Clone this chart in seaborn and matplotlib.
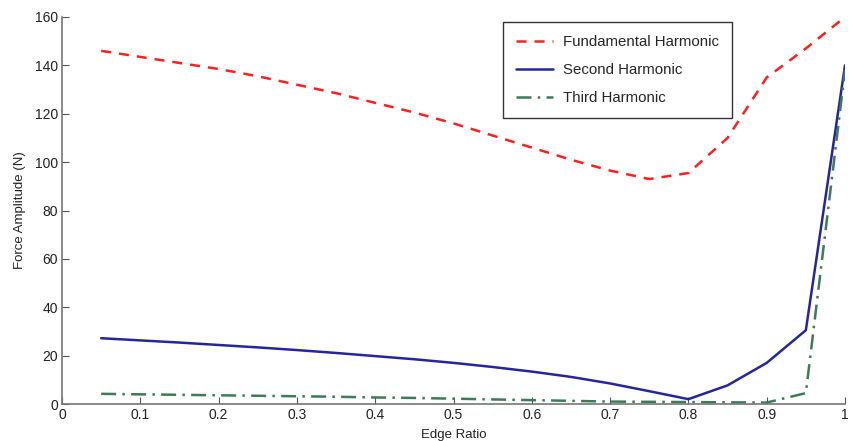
import matplotlib
matplotlib.use("Agg")
import matplotlib.pyplot as plt
import seaborn as sns
import pandas as pd

edge_ratio = [0.05, 0.10, 0.15, 0.20, 0.25, 0.30, 0.35, 0.40, 0.45, 0.50,
              0.55, 0.60, 0.65, 0.70, 0.75, 0.80, 0.85, 0.90, 0.95, 1.00]
fundamental = [146.0, 143.5, 141.0, 138.5, 135.5, 132.0, 128.5, 124.5, 120.5, 116.0,
               111.0, 106.0, 101.0, 96.5, 93.0, 95.5, 110.0, 135.0, 147.0, 160.0]
second = [27.2, 26.3, 25.4, 24.4, 23.4, 22.3, 21.1, 19.8, 18.5, 17.0,
          15.3, 13.4, 11.2, 8.5, 5.3, 2.0, 7.7, 17.0, 30.5, 140.0]
third = [4.2, 4.0, 3.8, 3.6, 3.4, 3.2, 3.0, 2.7, 2.5, 2.2,
         1.9, 1.6, 1.3, 1.0, 0.9, 0.8, 0.7, 0.6, 4.5, 138.0]

labels = ["Fundamental Harmonic", "Second Harmonic", "Third Harmonic"]

sns.set_style("white")
plt.rcParams['font.family'] = ['Liberation Sans', 'DejaVu Sans']

fig = plt.figure(figsize=(8.51, 4.41), dpi=100)
ax = fig.add_axes([62/851, 37/441, 783/851, 387/441])

df = pd.DataFrame({"x": edge_ratio * 3,
                   "y": fundamental + second + third,
                   "series": [labels[0]] * 20 + [labels[1]] * 20 + [labels[2]] * 20})

palette = {labels[0]: "#ff1f1f", labels[1]: "#26269a", labels[2]: "#3e7b58"}
dashes = {labels[0]: (4, 3.2), labels[1]: "", labels[2]: (6, 2.5, 1, 2.5)}
sns.lineplot(data=df, x="x", y="y", hue="series", style="series",
             palette=palette, dashes=dashes, linewidth=1.8, ax=ax)

ax.set_xlim(0, 1)
ax.set_ylim(0, 160)
ax.set_xticks([0, 0.1, 0.2, 0.3, 0.4, 0.5, 0.6, 0.7, 0.8, 0.9, 1])
ax.set_xticklabels(["0", "0.1", "0.2", "0.3", "0.4", "0.5", "0.6", "0.7", "0.8", "0.9", "1"])
ax.set_yticks(range(0, 161, 20))
ax.tick_params(direction="in", length=5, width=0.8, color="#555555",
               labelsize=10, labelcolor="#222222", left=True, bottom=True, pad=3)
for s in ["top", "right"]:
    ax.spines[s].set_visible(False)
for s in ["left", "bottom"]:
    ax.spines[s].set_color("#777777")
    ax.spines[s].set_linewidth(1.2)

ax.set_xlabel("Edge Ratio", fontsize=9.5, color="#222222", labelpad=5)
ax.set_ylabel("Force Amplitude (N)", fontsize=9.5, color="#222222", labelpad=6)

leg = ax.legend(loc="upper left", bbox_to_anchor=(0.563, 0.987), borderaxespad=0,
                fontsize=10.8, frameon=True, fancybox=False, edgecolor="black",
                handlelength=2.5, borderpad=0.85, labelspacing=0.95,
                handletextpad=0.65, title=None)
leg.get_frame().set_linewidth(1.0)

fig.savefig("out.png", dpi=100)
